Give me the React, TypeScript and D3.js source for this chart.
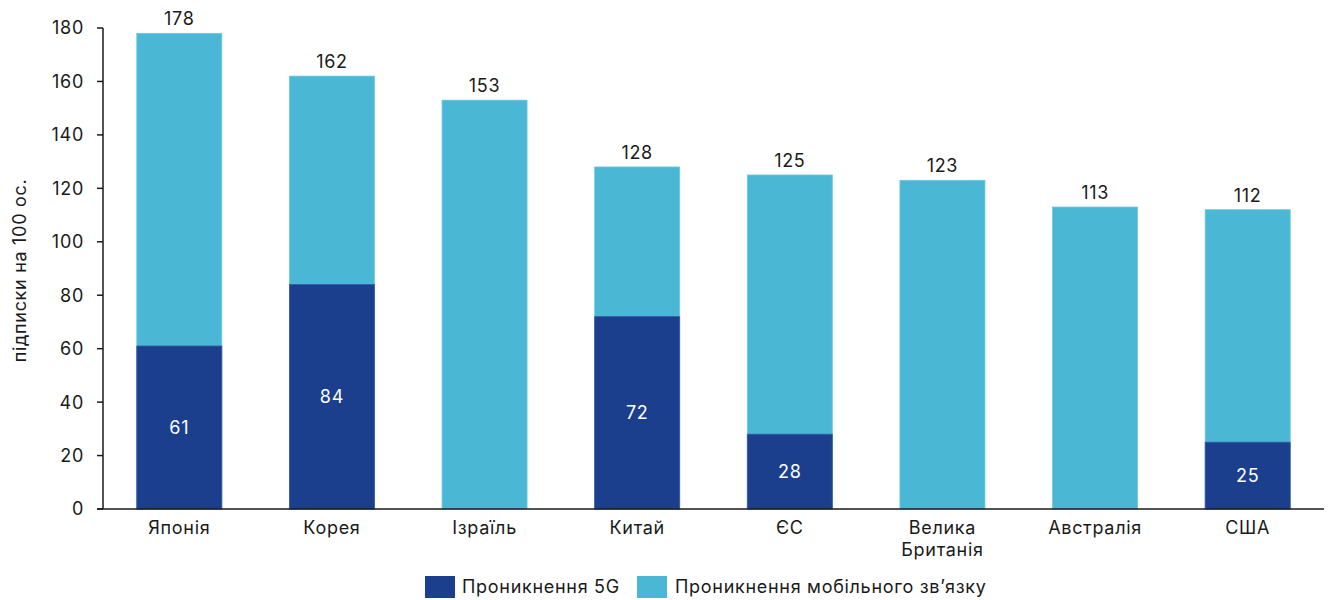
import React from "react";
import * as d3 from "d3";

const categories: string[][] = [["Японія"], ["Корея"], ["Ізраїль"], ["Китай"], ["ЄС"], ["Велика", "Британія"], ["Австралія"], ["США"]];
const mobileValues: number[] = [178, 162, 153, 128, 125, 123, 113, 112];
const fiveGValues: (number | null)[] = [61, 84, null, 72, 28, null, null, 25];
const yTicks: number[] = [0, 20, 40, 60, 80, 100, 120, 140, 160, 180];
const seriesNames: string[] = ["Проникнення 5G", "Проникнення мобільного зв’язку"];
const yTitle = "підписки на 100 ос.";

const DARK = "#1b3f8d";
const LIGHT = "#4ab8d5";
const TEXT = "#1a1a1a";
const FONT = "Inter, 'Noto Sans', sans-serif";

export default function App() {
  const W = 1331, H = 600;
  const left = 103, right = 1324, top = 28, bottom = 509;
  const keys = categories.map((c) => c.join(" "));
  const x = d3.scaleBand<string>().domain(keys).range([left, right]).paddingInner(0.443).paddingOuter(0.2215);
  const y = d3.scaleLinear().domain([0, 180]).range([bottom, top]);
  const bw = x.bandwidth();
  const fs = 18;
  const ls = 0.7;

  return (
    <svg width={W} height={H} style={{ position: "absolute", left: 0, top: 0, fontFamily: FONT, letterSpacing: `${ls}px` }}>
      <rect x={0} y={0} width={W} height={H} fill="#fff" />
      {keys.map((k, i) => {
        const x0 = x(k)!;
        const v = mobileValues[i];
        const g = fiveGValues[i];
        return (
          <g key={k}>
            <rect x={x0} y={y(v)} width={bw} height={y(0) - y(v)} fill={LIGHT} stroke="#6cc8e0" strokeWidth={0.8} />
            {g != null && (
              <rect x={x0} y={y(g)} width={bw} height={y(0) - y(g)} fill={DARK} stroke="#3a5ca3" strokeWidth={0.8} />
            )}
            <text x={x0 + bw / 2} y={y(v) - 8} textAnchor="middle" fontSize={fs} fill={TEXT}>{v}</text>
            {g != null && (
              <text x={x0 + bw / 2} y={(y(g) + y(0)) / 2} dy="0.36em" textAnchor="middle" fontSize={fs} fill="#fff">{g}</text>
            )}
            {categories[i].map((line, j) => (
              <text key={j} x={x0 + bw / 2} y={533.5 + j * 22} textAnchor="middle" fontSize={fs} fill={TEXT}>{line}</text>
            ))}
          </g>
        );
      })}
      {/* y axis */}
      <line x1={left} x2={left} y1={top} y2={bottom} stroke={TEXT} strokeWidth={1.5} />
      {yTicks.map((t) => (
        <g key={t}>
          <line x1={left - 6} x2={left} y1={y(t)} y2={y(t)} stroke={TEXT} strokeWidth={1.5} />
          <text x={left - 19} y={y(t)} dy="0.36em" textAnchor="end" fontSize={fs} fill={TEXT}>{t}</text>
        </g>
      ))}
      {/* x axis */}
      <line x1={left - 6} x2={right} y1={bottom} y2={bottom} stroke={TEXT} strokeWidth={1.5} />
      <text transform={`translate(26, ${(top + bottom) / 2 + 2}) rotate(-90)`} textAnchor="middle" fontSize={fs} fill={TEXT}>{yTitle}</text>
      {/* legend */}
      <rect x={425} y={576} width={30} height={22} fill={DARK} />
      <text x={462} y={587} dy="0.36em" fontSize={fs} fill={TEXT}>{seriesNames[0]}</text>
      <rect x={637} y={576} width={30} height={22} fill={LIGHT} />
      <text x={675} y={587} dy="0.36em" fontSize={fs} fill={TEXT}>{seriesNames[1]}</text>
    </svg>
  );
}
